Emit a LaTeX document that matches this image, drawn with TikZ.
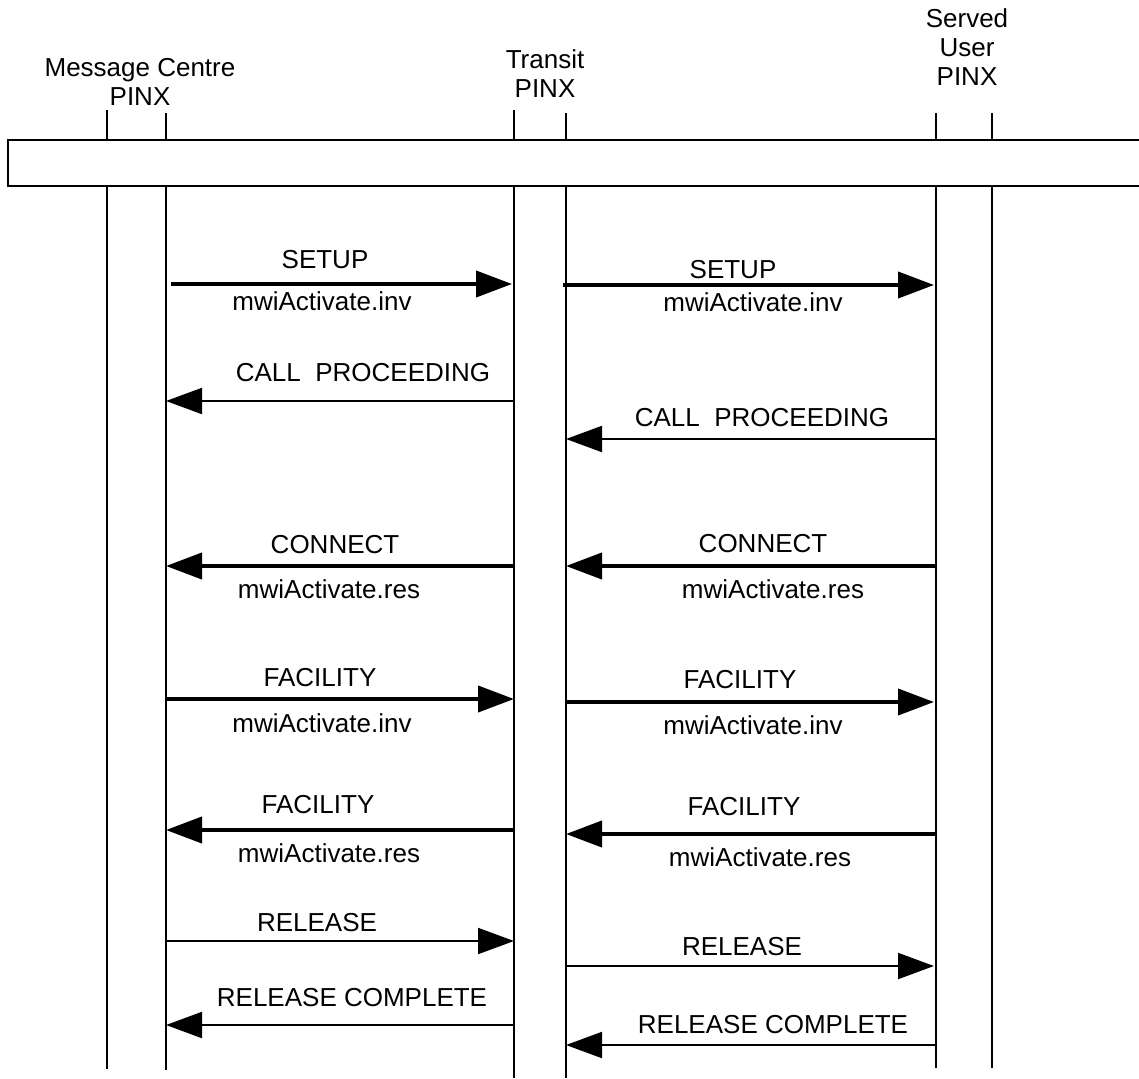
\documentclass[tikz,border=0pt]{standalone}
\usepackage{fontspec}
\setmainfont{Liberation Sans}
\usetikzlibrary{arrows.meta}
\begin{document}
\begin{tikzpicture}[x=1pt,y=-1pt,
  lbl/.style={inner sep=0pt,font=\fontsize{26}{29}\selectfont},
  head/.style={inner sep=0pt,align=center,font=\fontsize{26}{29}\selectfont},
  life/.style={line width=2pt},
  thickmsg/.style={line width=4pt,-{Triangle[length=36pt,width=26pt]}},
  thinmsg/.style={line width=2pt,-{Triangle[length=36pt,width=26pt]}}]
\useasboundingbox (0,0) rectangle (1139,1078);
% lifelines
\draw[life] (107,110) -- (107,1069);
\draw[life] (166,113) -- (166,1070);
\draw[life] (514,110) -- (514,1078);
\draw[life] (566,113) -- (566,1078);
\draw[life] (936,113) -- (936,1068);
\draw[life] (992,113) -- (992,1068);
% band
\fill[white] (8,140) rectangle (1145,186);
\draw[line width=2pt] (1145,140) -- (8,140) -- (8,186) -- (1145,186);
% headers
\node[head] (mc) at (140,82) {Message Centre\\PINX};
\node[head] (tr) at (545,74) {Transit\\PINX};
\node[head] (su) at (967,47) {Served\\User\\PINX};
% coordinates for message ends
\coordinate (l1a) at (171,284); \coordinate (l1b) at (512,284);
\coordinate (l2a) at (514,401); \coordinate (l2b) at (166,401);
\coordinate (l3a) at (514,566); \coordinate (l3b) at (166,566);
\coordinate (l4a) at (166,699); \coordinate (l4b) at (514,699);
\coordinate (l5a) at (514,830); \coordinate (l5b) at (166,830);
\coordinate (l6a) at (166,941); \coordinate (l6b) at (514,941);
\coordinate (l7a) at (514,1025); \coordinate (l7b) at (166,1025);
\coordinate (r1a) at (563,285); \coordinate (r1b) at (934,285);
\coordinate (r2a) at (936,439); \coordinate (r2b) at (566,439);
\coordinate (r3a) at (936,566); \coordinate (r3b) at (566,566);
\coordinate (r4a) at (566,702); \coordinate (r4b) at (934,702);
\coordinate (r5a) at (936,834); \coordinate (r5b) at (566,834);
\coordinate (r6a) at (566,966); \coordinate (r6b) at (934,966);
\coordinate (r7a) at (936,1045); \coordinate (r7b) at (566,1045);
% left messages
\draw[thickmsg] (l1a) -- (l1b);
\draw[thinmsg] (l2a) -- (l2b);
\draw[thickmsg] (l3a) -- (l3b);
\draw[thickmsg] (l4a) -- (l4b);
\draw[thickmsg] (l5a) -- (l5b);
\draw[thinmsg] (l6a) -- (l6b);
\draw[thinmsg] (l7a) -- (l7b);
% right messages
\draw[thickmsg] (r1a) -- (r1b);
\draw[thinmsg] (r2a) -- (r2b);
\draw[thickmsg] (r3a) -- (r3b);
\draw[thickmsg] (r4a) -- (r4b);
\draw[thickmsg] (r5a) -- (r5b);
\draw[thinmsg] (r6a) -- (r6b);
\draw[thinmsg] (r7a) -- (r7b);
% left labels
\node[lbl] (t1) at (325,260) {SETUP};
\node[lbl] (t1b) at (322,301) {mwiActivate.inv};
\node[lbl] (t2) at (363,373) {CALL\ \ PROCEEDING};
\node[lbl] (t3) at (335,545) {CONNECT};
\node[lbl] (t3b) at (329,589) {mwiActivate.res};
\node[lbl] (t4) at (320,678) {FACILITY};
\node[lbl] (t4b) at (322,723) {mwiActivate.inv};
\node[lbl] (t5) at (318,805) {FACILITY};
\node[lbl] (t5b) at (329,853) {mwiActivate.res};
\node[lbl] (t6) at (317,923) {RELEASE};
\node[lbl] (t7) at (352,998) {RELEASE COMPLETE};
% right labels
\node[lbl] (u1) at (733,270) {SETUP};
\node[lbl] (u1b) at (753,302) {mwiActivate.inv};
\node[lbl] (u2) at (762,418) {CALL\ \ PROCEEDING};
\node[lbl] (u3) at (763,544) {CONNECT};
\node[lbl] (u3b) at (773,589) {mwiActivate.res};
\node[lbl] (u4) at (740,680) {FACILITY};
\node[lbl] (u4b) at (753,725) {mwiActivate.inv};
\node[lbl] (u5) at (744,807) {FACILITY};
\node[lbl] (u5b) at (760,857) {mwiActivate.res};
\node[lbl] (u6) at (742,947) {RELEASE};
\node[lbl] (u7) at (773,1025) {RELEASE COMPLETE};
\end{tikzpicture}
\end{document}
